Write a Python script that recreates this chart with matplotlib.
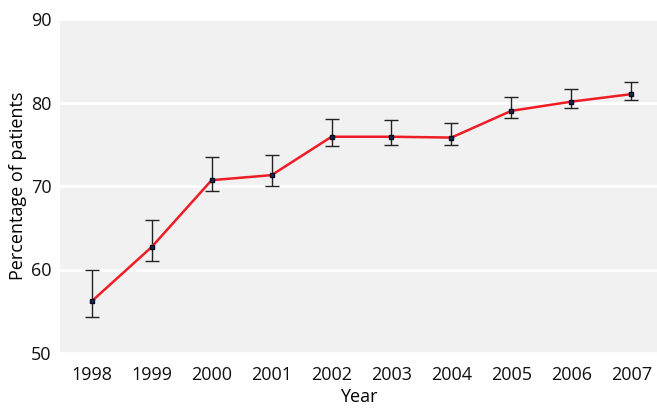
import matplotlib
matplotlib.use("Agg")
import matplotlib.pyplot as plt

years = [1998, 1999, 2000, 2001, 2002, 2003, 2004, 2005, 2006, 2007]
pct = [56.2, 62.7, 70.7, 71.3, 75.9, 75.9, 75.8, 79.0, 80.1, 81.0]
upper = [60.0, 65.9, 73.5, 73.7, 78.0, 77.9, 77.5, 80.6, 81.6, 82.5]
lower = [54.3, 61.0, 69.4, 70.0, 74.8, 74.9, 74.9, 78.1, 79.3, 80.3]
yticks = [50, 60, 70, 80, 90]

plt.rcParams['font.family'] = ['Open Sans', 'DejaVu Sans']

fig = plt.figure(figsize=(6.57, 4.09), dpi=100)
ax = fig.add_axes([60 / 657, 1 - 353 / 409, 597 / 657, 334 / 409])
ax.set_facecolor('#f0f1f0')

yerr = [[p - l for p, l in zip(pct, lower)], [u - p for p, u in zip(pct, upper)]]
ax.errorbar(years, pct, yerr=yerr, fmt='none', ecolor='#222222', elinewidth=1.0,
            capsize=5, capthick=1.0, zorder=2)
ax.plot(years, pct, color='#ee1c25', linewidth=1.8, zorder=3)
ax.plot(years, pct, linestyle='none', marker='s', markersize=3.5,
        markerfacecolor='#1a2a5a', markeredgecolor='#0a0a20', zorder=4)

ax.set_xlim(1997.47, 2007.43)
ax.set_ylim(50, 90)
ax.set_yticks(yticks)
ax.set_xticks(years)
ax.grid(axis='y', color='white', linewidth=2)
ax.set_axisbelow(True)
for s in ax.spines.values():
    s.set_visible(False)
ax.tick_params(length=0, labelsize=13, colors='#111111')
ax.tick_params(axis='x', pad=9)
ax.tick_params(axis='y', pad=6)
ax.set_xlabel('Year', fontsize=13, labelpad=3)
ax.set_ylabel('Percentage of patients', fontsize=13, labelpad=3)

fig.savefig('out.png', dpi=100)
